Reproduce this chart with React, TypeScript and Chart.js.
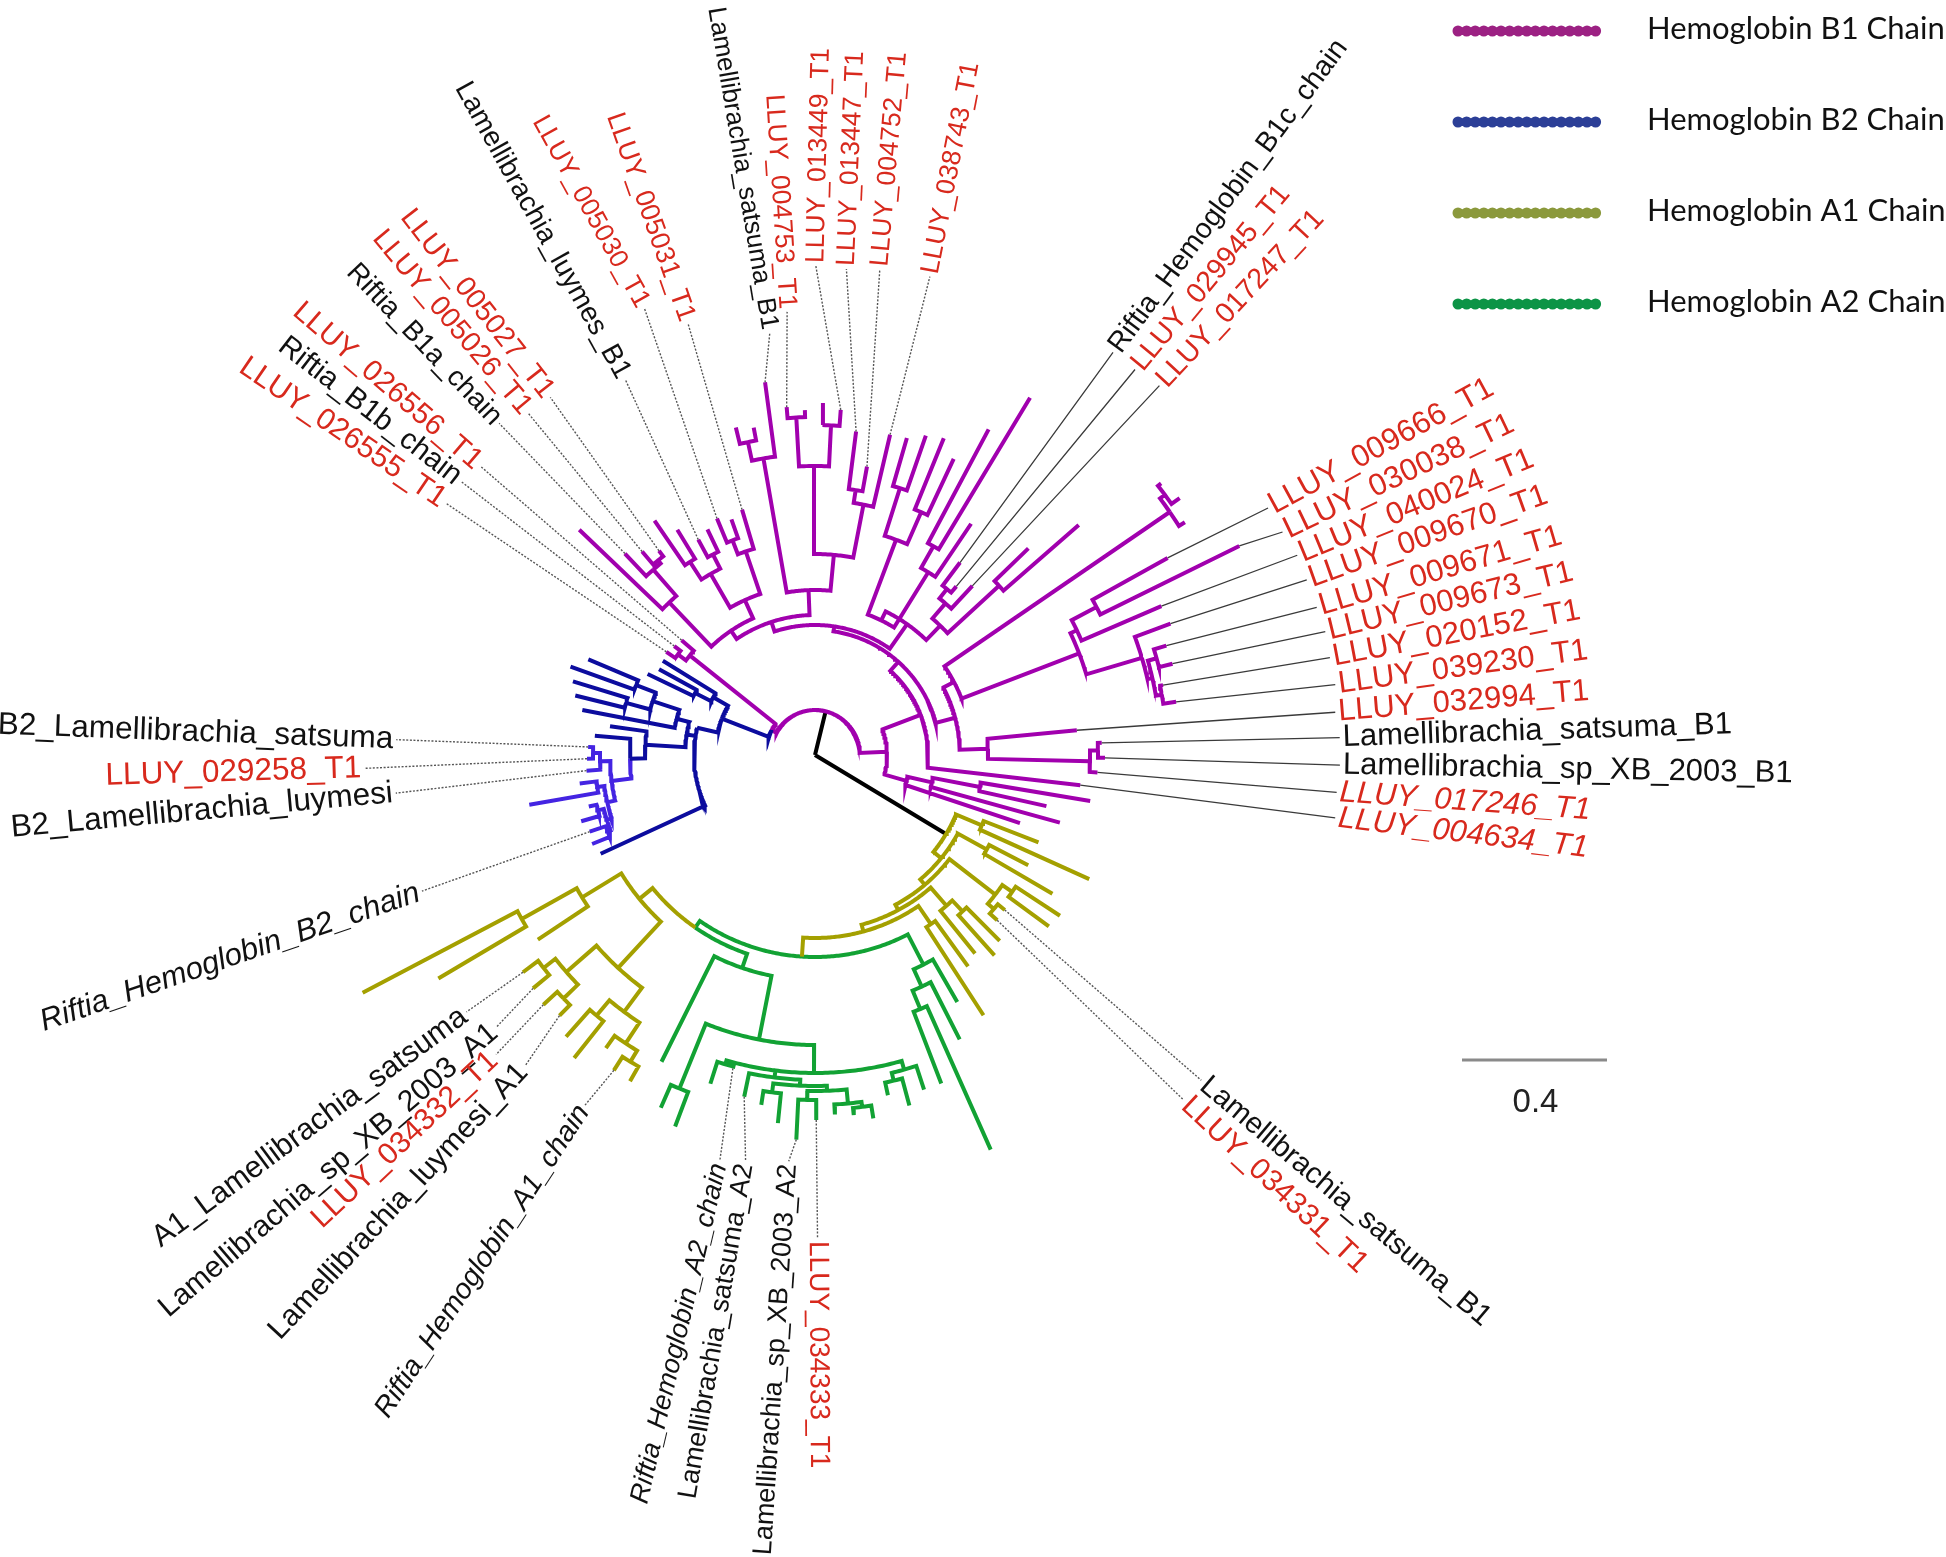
import React, { useEffect, useRef } from "react";
import { Chart, registerables } from "chart.js";

Chart.register(...registerables);

// ---------- page / layout ----------
const WIDTH = 1946;
const HEIGHT = 1557;
const CENTER_X = 815;
const CENTER_Y = 755;

// ---------- tree (radial, FigTree-like: leaves evenly spread around 360 deg) ----------
const LEAF_COUNT = 121;
const FIRST_LEAF_ANGLE = -18.4;
const ANGLE_STEP = 360 / LEAF_COUNT;

type TNode = { r: number; kids?: TNode[]; label?: number; color?: string; stem?: string; angle?: number; fixed?: number };
const N = (r: number, ...kids: TNode[]): TNode => ({ r, kids });
const NA = (fixed: number, r: number, ...kids: TNode[]): TNode => ({ r, kids, fixed });
const L = (r: number, label?: number): TNode => ({ r, label });
const C = (color: string, n: TNode, stem?: string): TNode => ({ ...n, color, stem });

// B1 chain (purple)
const LOWER_BUNDLE = N(95, L(216), N(120, L(254), N(168, L(237), L(279))));
const RIGHT_GROUP = N(283,
  N(341, N(346, N(352, L(365, 5), L(355, 6)), N(355, L(369, 7), L(368, 8))), L(379, 9)),
  N(290, L(377, 10), N(318, L(473, 11), L(404, 12))));
const T_CLUSTER = N(430, L(437), N(436, L(446), L(440)));
const RIGHT_MID = N(145, N(173, N(275, L(283, 1), N(283, L(290, 2), L(287, 3))), L(263, 4)), N(157, RIGHT_GROUP, T_CLUSTER));
const PAIR_41 = N(250, L(350), L(297));
const B1C_GROUP = N(200, L(231, 13), N(212, L(220, 14), L(241, 15)));
const UPPER_FAN = N(150, N(215, L(279), N(240, L(417), L(369))), N(230, N(265, L(327), L(342)), N(280, L(338), L(330))));
const TOP_GROUP = N(165,
  N(201, N(255, L(329, 16), N(268, L(293, 17), L(326, 18))), N(289, N(330, L(346, 19), L(352)), N(338, L(345), L(349, 20)))),
  N(301, L(376, 21), N(320, L(333), L(337))));
const UPPER_LEFT = N(150,
  N(170, N(215, L(256, 22), N(230, L(250), L(256, 23))), N(209, N(225, L(250), L(245, 24)), N(230, L(264), L(284)))),
  N(211, N(246, N(250, L(257, 25), L(267, 26)), L(277, 27)), L(326)));
const UPPER = N(130, N(160, N(180, PAIR_41, B1C_GROUP), UPPER_FAN), N(140, TOP_GROUP, UPPER_LEFT));
const B1_MAIN = N(72, LOWER_BUNDLE, N(113, L(267, 0), N(125, RIGHT_MID, UPPER)));
const B1_SMALL = N(160, L(176, 28), N(170, L(178, 29), L(181, 30)));

// B2 chain (blue)
const B2_TOP = N(117, L(179), N(135, L(178), L(186)));
const B2_FAN = N(143, N(171, N(192, L(246), L(260)), N(196, L(253), L(247))), L(237));
const B2_LIGHT = N(205,
  N(215, N(222, L(227, 31), L(228, 32)), L(229, 33)),
  N(213, N(220, L(237), L(290)), N(218, N(224, L(232), L(243)), N(221, L(238, 34), L(240)))));
const B2_MID = N(170, L(207), N(185, L(221), C("B2L", B2_LIGHT)));
const B2 = N(100, B2_TOP, NA(167, 121, N(130, B2_FAN, B2_MID), L(236)));

// A1 chain (olive) and A2 chain (green)
const A1_LEFT = N(227,
  N(273, N(336, L(511), L(438)), L(333)),
  N(290, N(330, N(345, L(364, 35), L(366, 36)), N(350, L(369, 37), L(365, 38))),
    N(320, N(340, L(376), L(387)), N(345, L(360), N(358, L(374, 39), L(375))))));
const A2_LEFT_CORE = N(318,
  N(322, L(345), L(324, 40)),
  N(325, L(349, 41), N(331, N(340, L(354), L(370)), N(336, N(345, L(385, 42), L(365, 43)), N(350, L(360), N(355, L(362), L(368)))))),
  N(327, N(335, L(348), L(363)), L(352)));
const A2_LEFT = N(225, L(343), N(290, N(360, L(385), L(397)), A2_LEFT_CORE));
const A2_RIGHT = N(236, N(255, N(275, L(352), L(432)), L(319)), L(285));
const A_CORE = N(202, C("A2", N(210, C("A1", A1_LEFT), A2_LEFT)), C("A2", A2_RIGHT));
const A_LADDER = N(163,
  N(170, N(176, N(183, A_CORE, N(205, L(310), L(261))), N(200, L(255), N(215, L(269), L(262)))),
    N(228, N(236, L(246, 44), L(245, 45)), N(240, L(290), L(293)))),
  N(196, L(275), L(240)));
const A1_TOP = N(181, L(301), L(240));

const TREE = N(0,
  C("B1", N(45, B1_MAIN, N(50, B1_SMALL, C("B2", B2))), "root"),
  C("A1", N(153, A_LADDER, A1_TOP), "root"));

const BRANCH_COLORS: Record<string, string> = {
  root: "#000000",
  B1: "#a100ae",
  B2: "#0c0c9e",
  B2L: "#4424e2",
  A1: "#a4a000",
  A2: "#12a234",
};

// ---------- tip labels ----------
const LABEL_TEXTS: string[] = [
  "LLUY_004634_T1", "LLUY_017246_T1", "Lamellibrachia_sp_XB_2003_B1", "Lamellibrachia_satsuma_B1",
  "LLUY_032994_T1", "LLUY_039230_T1", "LLUY_020152_T1", "LLUY_009673_T1", "LLUY_009671_T1",
  "LLUY_009670_T1", "LLUY_040024_T1", "LLUY_030038_T1", "LLUY_009666_T1",
  "LLUY_017247_T1", "LLUY_029945_T1", "Riftia_Hemoglobin_B1c_chain",
  "LLUY_038743_T1", "LLUY_004752_T1", "LLUY_013447_T1", "LLUY_013449_T1", "LLUY_004753_T1",
  "Lamellibrachia_satsuma_B1", "LLUY_005031_T1", "LLUY_005030_T1", "Lamellibrachia_luymes_B1",
  "LLUY_005027_T1", "LLUY_005026_T1", "Riftia_B1a_chain", "LLUY_026556_T1", "Riftia_B1b_chain",
  "LLUY_026555_T1", "B2_Lamellibrachia_satsuma", "LLUY_029258_T1", "B2_Lamellibrachia_luymesi",
  "Riftia_Hemoglobin_B2_chain", "A1_Lamellibrachia_satsuma", "Lamellibrachia_sp_XB_2003_A1",
  "LLUY_034332_T1", "Lamellibrachia_luymesi_A1", "Riftia_Hemoglobin_A1_chain",
  "Riftia_Hemoglobin_A2_chain", "Lamellibrachia_satsuma_A2", "Lamellibrachia_sp_XB_2003_A2",
  "LLUY_034333_T1", "LLUY_034331_T1", "Lamellibrachia_satsuma_B1",
];
// label placement: [anchor angle deg, anchor radius, font px, italic, dotted leader, text rotation deg (NaN = anchor angle)]
const LABEL_LAYOUT: [number, number, number, boolean, boolean, number][] = [
  [-6.9, 524, 31, true, false, NaN], [-4.1, 523, 31, true, false, NaN], [-1.1, 525, 31, false, false, NaN], [1.9, 525, 31, false, false, NaN],
  [4.7, 522, 31, false, false, NaN], [7.7, 525, 31, false, false, NaN], [10.7, 524, 31, false, false, NaN], [13.6, 525, 31, false, false, NaN],
  [16.4, 523, 31, false, false, NaN], [19.6, 522, 31, false, false, NaN], [22.5, 522, 31, false, false, NaN], [25.5, 518, 31, false, false, NaN],
  [28.6, 516, 31, false, false, NaN],
  [47, 505, 28.5, false, false, NaN], [50.3, 501, 28.5, false, false, NaN], [53.5, 501, 28.5, false, false, NaN],
  [76.5, 492, 26.5, false, true, 79], [82.4, 490, 26.5, false, true, 85], [86.3, 487, 26.5, false, true, 87.5], [89.9, 489, 26.5, false, true, 88.5],
  [93.6, 444, 26.5, false, true, NaN], [96.1, 425, 26, false, true, 99.5], [106.4, 450, 27, false, true, 109.5], [110.9, 478, 26.5, false, true, 119],
  [116.8, 421, 28, false, true, 119], [126.5, 445, 28.5, false, true, 128], [130, 446, 28.5, false, true, NaN], [133.6, 458, 28, false, true, NaN],
  [139.2, 442, 29.5, false, true, NaN], [142.3, 448, 29.5, false, true, NaN], [145.7, 447, 30, false, true, NaN],
  [177.9, 419, 31.5, false, true, NaN], [181.7, 451, 31.5, false, true, NaN], [185.2, 421, 31.5, false, true, NaN], [199.1, 416, 31, true, true, NaN],
  [216.4, 433, 30.5, false, true, NaN], [220.5, 419, 30, false, true, NaN], [223.2, 437.6, 30, false, true, NaN], [227, 425, 30, false, true, NaN],
  [236.7, 419, 28.5, true, true, NaN], [256.8, 417, 27, true, true, NaN], [260.3, 412, 27, false, true, NaN], [266.3, 407, 27, false, true, NaN],
  [270.3, 483, 28, false, true, NaN], [316.9, 504.6, 30, false, true, NaN], [319.9, 505, 29.5, false, true, NaN],
];
const RED = "#d8291d";
const INK = "#111111";

// ---------- legend & scale ----------
const LEGEND_LABELS = ["Hemoglobin B1 Chain", "Hemoglobin B2 Chain", "Hemoglobin A1 Chain", "Hemoglobin A2 Chain"];
const LEGEND_COLORS = ["#9c2183", "#2c3f97", "#8b993c", "#0c9446"];
const SCALE_BAR_VALUE = 0.4;
const PX_PER_TREE_UNIT = 362.5;

const rad = (d: number) => (d * Math.PI) / 180;
const polar = (r: number, a: number) => ({ x: r * Math.cos(rad(a)), y: r * Math.sin(rad(a)) });

function layoutTree(node: TNode, counter: { i: number }) {
  if (!node.kids) {
    node.angle = FIRST_LEAF_ANGLE + counter.i * ANGLE_STEP;
    counter.i++;
    return;
  }
  node.kids.forEach((k) => layoutTree(k, counter));
  node.angle = node.fixed ?? (node.kids[0].angle! + node.kids[node.kids.length - 1].angle!) / 2;
}

export default function App() {
  const ref = useRef<HTMLCanvasElement | null>(null);

  useEffect(() => {
    if (!ref.current) return;
    layoutTree(TREE, { i: 0 });

    const segs: Record<string, { x: number; y: number }[]> = {};
    const tips: Record<number, TNode> = {};
    const walk = (node: TNode, inherited: string) => {
      const col = node.color ?? inherited;
      if (!node.kids) {
        if (node.label !== undefined) tips[node.label] = node;
        return;
      }
      for (const k of node.kids) {
        const kc = k.color ?? col;
        const stem = k.stem ?? kc;
        const a0 = node.angle!, a1 = k.angle!;
        const n = Math.max(1, Math.ceil(Math.abs(a1 - a0) / 0.5));
        const pts: { x: number; y: number }[] = [];
        for (let j = 0; j <= n; j++) pts.push(polar(node.r, a0 + ((a1 - a0) * j) / n));
        pts.push(polar(k.r, a1));
        (segs[stem] ||= []).push(...pts, { x: NaN, y: NaN });
        walk(k, kc);
      }
    };
    walk(TREE, "root");

    const solid: { x: number; y: number }[] = [];
    const dotted: { x: number; y: number }[] = [];
    LABEL_LAYOUT.forEach(([a, R, , , dot], i) => {
      const t = tips[i];
      if (!t) return;
      const arr = dot ? dotted : solid;
      arr.push(polar(t.r, t.angle!), polar(R, a), { x: NaN, y: NaN });
    });

    const datasets: any[] = [
      { data: solid, showLine: true, borderColor: "#3a3a3a", borderWidth: 1.3, pointRadius: 0, spanGaps: false },
      { data: dotted, showLine: true, borderColor: "#555555", borderWidth: 1.4, borderDash: [2, 1.6], pointRadius: 0, spanGaps: false },
    ];
    ["A1", "A2", "B2", "B2L", "B1", "root"].forEach((key) => {
      if (!segs[key]) return;
      datasets.push({
        data: segs[key], showLine: true, borderColor: BRANCH_COLORS[key], borderWidth: 4, pointRadius: 0,
        spanGaps: false, borderCapStyle: "butt", borderJoinStyle: "miter", tension: 0,
      });
    });

    const overlay = {
      id: "overlay",
      afterDraw(chart: any) {
        const ctx: CanvasRenderingContext2D = chart.ctx;
        const sx = chart.scales.x, sy = chart.scales.y;
        // tip labels
        LABEL_LAYOUT.forEach(([a, R, size, italic, , rot], i) => {
          const text = LABEL_TEXTS[i];
          const p = polar(R, a);
          const px = sx.getPixelForValue(p.x), py = sy.getPixelForValue(p.y);
          const ang = Number.isNaN(rot) ? a : rot;
          const right = Math.cos(rad(a)) >= 0;
          ctx.save();
          ctx.translate(px, py);
          ctx.rotate(right ? -rad(ang) : -(rad(ang) + Math.PI));
          ctx.textAlign = right ? "left" : "right";
          ctx.textBaseline = "middle";
          ctx.font = `${italic ? "italic " : ""}${size}px "Liberation Sans", Arial, sans-serif`;
          ctx.fillStyle = text.startsWith("LLUY") ? RED : INK;
          ctx.fillText(text, right ? 3 : -3, 0);
          ctx.restore();
        });
        // legend
        LEGEND_LABELS.forEach((lab, i) => {
          const y = 31 + i * 91;
          ctx.save();
          ctx.strokeStyle = LEGEND_COLORS[i];
          ctx.lineWidth = 11;
          ctx.lineCap = "round";
          ctx.setLineDash([0, 8.6]);
          ctx.beginPath();
          ctx.moveTo(1458, y);
          ctx.lineTo(1596, y);
          ctx.stroke();
          ctx.restore();
          ctx.save();
          ctx.fillStyle = "#111";
          ctx.font = `31px Lato, "Open Sans", sans-serif`;
          ctx.textBaseline = "alphabetic";
          ctx.textAlign = "left";
          ctx.fillText(lab, 1647, y + 8);
          ctx.restore();
        });
        // scale bar
        const x0 = sx.getPixelForValue(1462 - CENTER_X);
        const x1 = sx.getPixelForValue(1462 - CENTER_X + SCALE_BAR_VALUE * PX_PER_TREE_UNIT);
        const yb = sy.getPixelForValue(CENTER_Y - 1060);
        ctx.save();
        ctx.strokeStyle = "#8a8a8a";
        ctx.lineWidth = 3;
        ctx.beginPath();
        ctx.moveTo(x0, yb);
        ctx.lineTo(x1, yb);
        ctx.stroke();
        ctx.fillStyle = "#222";
        ctx.font = `33px "Liberation Sans", Arial, sans-serif`;
        ctx.textAlign = "center";
        ctx.textBaseline = "alphabetic";
        ctx.fillText(String(SCALE_BAR_VALUE), (x0 + x1) / 2 + 1, yb + 52);
        ctx.restore();
      },
    };

    const chart = new Chart(ref.current, {
      type: "scatter",
      data: { datasets },
      options: {
        animation: false,
        responsive: false,
        devicePixelRatio: 1,
        layout: { padding: 0 },
        scales: {
          x: { type: "linear", min: -CENTER_X, max: WIDTH - CENTER_X, display: false },
          y: { type: "linear", min: -(HEIGHT - CENTER_Y), max: CENTER_Y, display: false },
        },
        plugins: { legend: { display: false }, tooltip: { enabled: false } },
        elements: { point: { radius: 0 } },
      },
      plugins: [overlay],
    } as any);
    return () => chart.destroy();
  }, []);

  return (
    <div style={{ position: "fixed", left: 0, top: 0, width: WIDTH, height: HEIGHT, background: "#fff" }}>
      <canvas ref={ref} width={WIDTH} height={HEIGHT} style={{ display: "block", width: WIDTH, height: HEIGHT }} />
    </div>
  );
}
